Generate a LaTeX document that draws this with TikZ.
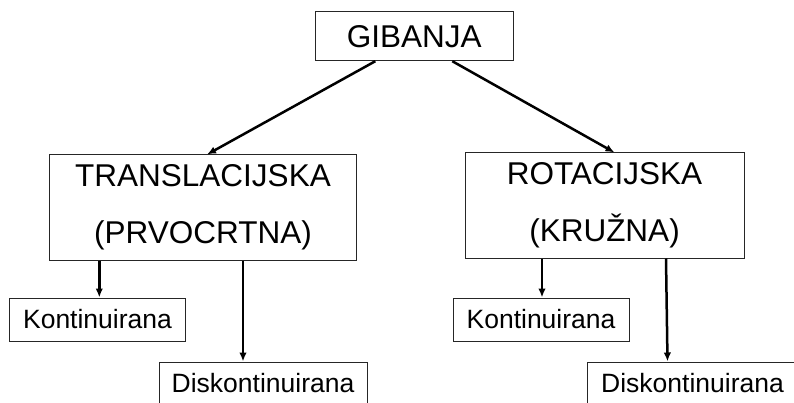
\documentclass[tikz,border=0pt]{standalone}
\usepackage{fontspec}
\setmainfont{Liberation Sans}
\usetikzlibrary{arrows.meta}
\begin{document}
\begin{tikzpicture}[x=1pt,y=1pt,
  box/.style={draw=black!85, line width=1pt, inner sep=0pt, fill=white},
  bigbox/.style={box, align=center, font=\fontsize{31.5}{56.7}\selectfont},
  smallbox/.style={box, minimum height=43pt, font=\fontsize{26.5}{30}\selectfont},
  arr/.style={line width=2.5pt, -{Latex[length=9pt,width=7.5pt]}}]
\clip (0,0) rectangle (794,-403);
\fill[white] (0,0) rectangle (794,-403);
\node[box, font=\fontsize{31.5}{36}\selectfont, minimum width=198pt, minimum height=49pt] (g) at (414.3,-36.2) {GIBANJA};
\node[bigbox, minimum width=307.7pt, minimum height=105pt] (t) at (203,-207.5) {TRANSLACIJSKA\\(PRVOCRTNA)};
\node[bigbox, minimum width=279pt, minimum height=105pt] (r) at (604.5,-205.5) {ROTACIJSKA\\(KRUŽNA)};
\node[smallbox, minimum width=176.4pt] (kl) at (97.5,-319.5) {Kontinuirana};
\node[smallbox, minimum width=176pt] (kr) at (541,-319.5) {Kontinuirana};
\node[smallbox, minimum width=208pt] (dl) at (263,-383.5) {Diskontinuirana};
\node[smallbox, minimum width=210pt] (dr) at (692.5,-383.5) {Diskontinuirana};
\draw[arr] ([xshift=-39pt]g.south) -- ([xshift=4pt]t.north);
\draw[arr] ([xshift=38pt]g.south) -- ([xshift=10pt]r.north);
\draw[arr] ([xshift=1.8pt]kl.north |- t.south) -- ([xshift=1.8pt]kl.north);
\draw[arr] ([xshift=-20pt]dl.north |- t.south) -- ([xshift=-20pt]dl.north);
\draw[arr] ([xshift=1pt]kr.north |- r.south) -- ([xshift=1pt]kr.north);
\draw[arr] ([xshift=-26.5pt]dr.north |- r.south) -- ([xshift=-25pt]dr.north);
\end{tikzpicture}
\end{document}
